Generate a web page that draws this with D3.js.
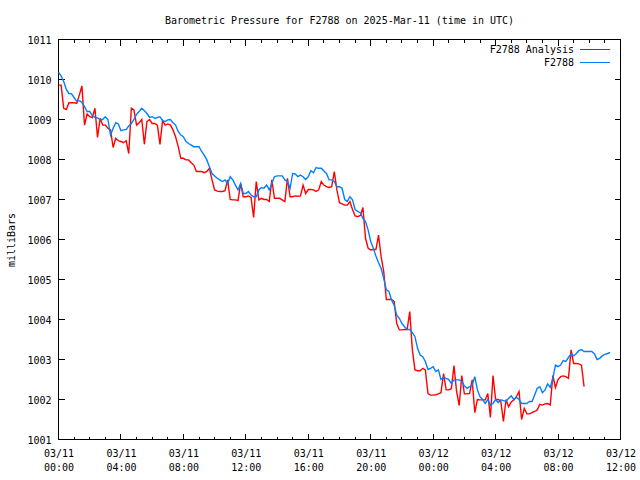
<!DOCTYPE html>
<html><head><meta charset="utf-8">
<script src="https://cdn.jsdelivr.net/npm/d3@7"></script>
<style>
html,body{margin:0;padding:0;background:#fff;}
svg text{font-family:"DejaVu Sans Mono","Liberation Mono",monospace;font-size:10px;fill:#000;}
</style>
</head><body>
<svg id="chart" width="640" height="480"></svg>
<script>
// ---- data (10-minute samples starting 2025-03-11 00:00 UTC) ----
const title = "Barometric Pressure for F2788 on 2025-Mar-11 (time in UTC)";
const yLabel = "milliBars";
const seriesNames = ["F2788 Analysis", "F2788"];
const seriesColors = ["#ff0000", "#0080ff"];
const startTime = Date.UTC(2025, 2, 11, 0, 0);
const stepMinutes = 10;
const xDomain = [Date.UTC(2025, 2, 11, 0, 0), Date.UTC(2025, 2, 12, 12, 0)];
const yTicks = [1001,1002,1003,1004,1005,1006,1007,1008,1009,1010,1011];

const analysis = [
1009.86,1009.86,1009.28,1009.25,1009.42,1009.42,
1009.42,1009.40,1009.61,1009.84,1008.86,1009.14,
1009.07,1009.05,1009.28,1008.55,1009.03,1008.86,
1008.86,1008.78,1008.74,1008.30,1008.53,1008.47,
1008.45,1008.42,1008.47,1008.15,1009.28,1009.24,
1008.86,1008.92,1009.00,1008.38,1008.95,1009.00,
1008.90,1008.90,1008.86,1008.38,1008.97,1008.86,
1008.89,1008.86,1008.74,1008.57,1008.33,1008.03,
1008.03,1007.99,1007.99,1007.92,1007.86,1007.70,
1007.70,1007.70,1007.67,1007.70,1007.78,1007.49,
1007.24,1007.21,1007.20,1007.20,1007.22,1007.49,
1007.00,1006.99,1006.99,1006.97,1007.40,1007.07,
1007.07,1007.09,1007.05,1006.55,1007.45,1006.99,
1007.03,1007.00,1007.00,1006.95,1007.49,1007.03,
1007.03,1007.03,1006.99,1006.95,1007.53,1007.07,
1007.07,1007.09,1007.08,1007.09,1007.36,1007.15,
1007.25,1007.25,1007.24,1007.20,1007.24,1007.45,
1007.36,1007.32,1007.30,1007.32,1007.70,1007.24,
1006.92,1006.89,1006.86,1006.86,1006.95,1006.75,
1006.59,1006.57,1006.60,1006.80,1006.03,1005.78,
1005.74,1005.75,1005.75,1006.11,1005.57,1005.20,
1004.50,1004.50,1004.50,1004.45,1003.90,1003.74,
1003.74,1003.75,1003.75,1004.20,1003.24,1002.74,
1002.72,1002.72,1002.78,1002.74,1002.15,1002.11,
1002.11,1002.12,1002.14,1002.17,1002.65,1002.24,
1002.24,1002.27,1002.85,1002.20,1001.85,1002.60,
1002.14,1002.14,1002.15,1002.49,1001.67,1002.00,
1001.99,1001.99,1001.99,1002.15,1001.55,1002.60,
1002.00,1002.00,1001.95,1001.45,1002.00,1001.82,
1001.94,1001.99,1002.07,1002.20,1001.50,1001.78,
1001.64,1001.64,1001.67,1001.70,1001.74,1001.88,
1001.86,1001.89,1001.90,1001.86,1002.60,1002.30,
1002.50,1002.57,1002.59,1002.57,1002.53,1003.24,
1002.90,1002.90,1002.89,1002.86,1002.32
];

const station = [
1010.18,1010.09,1009.95,1009.75,1009.65,1009.64,
1009.55,1009.45,1009.47,1009.43,1009.32,1009.20,
1009.20,1009.10,1009.05,1009.04,1009.00,1009.00,
1009.07,1009.00,1008.61,1008.78,1008.92,1008.89,
1008.72,1008.74,1008.75,1008.84,1008.90,1009.00,
1009.13,1009.20,1009.28,1009.22,1009.15,1009.05,
1009.07,1009.03,1009.05,1009.07,1008.97,1008.95,
1008.99,1009.00,1008.92,1008.86,1008.70,1008.61,
1008.57,1008.45,1008.40,1008.36,1008.32,1008.32,
1008.32,1008.20,1008.11,1007.99,1007.82,1007.65,
1007.59,1007.53,1007.49,1007.45,1007.49,1007.40,
1007.57,1007.49,1007.36,1007.24,1007.40,1007.15,
1007.15,1007.20,1007.11,1007.07,1007.07,1007.24,
1007.30,1007.28,1007.36,1007.24,1007.40,1007.57,
1007.59,1007.59,1007.59,1007.49,1007.45,1007.28,
1007.65,1007.64,1007.57,1007.61,1007.57,1007.50,
1007.57,1007.72,1007.67,1007.80,1007.78,1007.78,
1007.71,1007.65,1007.49,1007.49,1007.45,1007.32,
1007.32,1007.28,1007.00,1006.95,1007.07,1006.99,
1006.75,1006.70,1006.67,1006.53,1006.45,1006.24,
1005.95,1005.78,1005.59,1005.42,1005.28,1005.03,
1004.74,1004.70,1004.49,1004.36,1004.11,1004.03,
1003.90,1003.82,1003.75,1003.75,1003.67,1003.57,
1003.28,1003.11,1003.07,1002.95,1002.75,1002.78,
1002.82,1002.70,1002.74,1002.50,1002.55,1002.53,
1002.50,1002.40,1002.49,1002.49,1002.49,1002.45,
1002.34,1002.28,1002.32,1002.36,1002.57,1002.24,
1002.07,1002.00,1001.90,1002.00,1001.86,1001.90,
1002.00,1001.92,1001.99,1001.97,1001.95,1002.03,
1002.09,1002.00,1002.05,1002.00,1001.90,1001.90,
1001.90,1001.95,1001.95,1002.11,1002.28,1002.32,
1002.17,1002.24,1002.39,1002.30,1002.53,1002.86,
1002.82,1002.86,1002.97,1002.95,1003.05,1003.14,
1003.09,1003.15,1003.22,1003.25,1003.20,1003.20,
1003.20,1003.20,1003.14,1003.00,1003.03,1003.09,
1003.13,1003.15,1003.18
];

// ---- drawing ----
const svg = d3.select("#chart");
const L = 58.5, R = 620.5, T = 39.5, B = 439.5;

const x = d3.scaleUtc().domain(xDomain).range([L, R]);
const y = d3.scaleLinear().domain([1001, 1011]).range([B, T]);

const toPoints = arr => arr.map((v, i) => ({t: new Date(startTime + i * stepMinutes * 60000), v}));

// title
svg.append("text").attr("x", (L + R) / 2).attr("y", 23.5)
  .attr("text-anchor", "middle").text(title);

// y label
svg.append("text").attr("transform", "translate(15,240) rotate(-90)")
  .attr("text-anchor", "middle").text(yLabel);

// frame
svg.append("rect").attr("x", L).attr("y", T).attr("width", R - L).attr("height", B - T)
  .attr("fill", "none").attr("stroke", "#000").attr("stroke-width", 1)
  .attr("shape-rendering", "crispEdges");

const tickG = svg.append("g").attr("stroke", "#000").attr("stroke-width", 1)
  .attr("shape-rendering", "crispEdges");

// x ticks (major every 4h, minor every 1h), mirrored on top
const xMajor = d3.utcHour.every(4).range(xDomain[0], new Date(xDomain[1].valueOf() + 1));
const xMinor = d3.utcHour.every(1).range(xDomain[0], new Date(xDomain[1].valueOf() + 1));
xMinor.forEach(d => {
  const isMajor = d.getUTCHours() % 4 === 0;
  const len = isMajor ? 6 : 3;
  const px = Math.round(x(d) - 0.5) + 0.5;
  tickG.append("line").attr("x1", px).attr("x2", px).attr("y1", B).attr("y2", B - len);
  tickG.append("line").attr("x1", px).attr("x2", px).attr("y1", T).attr("y2", T + len);
});

// y ticks mirrored on right
yTicks.forEach(v => {
  const py = Math.round(y(v) - 0.5) + 0.5;
  tickG.append("line").attr("x1", L).attr("x2", L + 6).attr("y1", py).attr("y2", py);
  tickG.append("line").attr("x1", R).attr("x2", R - 6).attr("y1", py).attr("y2", py);
});

// axis labels using d3 axes (lines hidden; frame drawn above)
const fmtDate = d3.utcFormat("%m/%d"), fmtTime = d3.utcFormat("%H:%M");
const xAxis = d3.axisBottom(x).tickValues(xMajor).tickSize(0).tickPadding(0).tickFormat("");
const gx = svg.append("g").attr("transform", `translate(0,${B})`).call(xAxis);
gx.select(".domain").remove();
gx.selectAll(".tick").each(function(d) {
  const g = d3.select(this);
  g.select("line").remove();
  const t = g.select("text").attr("y", 0).attr("dy", null).attr("text-anchor", "middle");
  t.append("tspan").attr("x", 0).attr("y", 17).text(fmtDate(d));
  t.append("tspan").attr("x", 0).attr("y", 31).text(fmtTime(d));
});

const yAxis = d3.axisLeft(y).tickValues(yTicks).tickSize(0).tickPadding(7).tickFormat(d3.format("d"));
const gy = svg.append("g").attr("transform", `translate(${L},0)`).call(yAxis);
gy.select(".domain").remove();
gy.selectAll(".tick line").remove();
gy.selectAll(".tick text").attr("dy", "0.35em");
gx.attr("font-family", null).attr("font-size", null);
gy.attr("font-family", null).attr("font-size", null);

// series lines
const line = d3.line().x(d => x(d.t)).y(d => y(d.v));
[analysis, station].forEach((arr, i) => {
  svg.append("path").datum(toPoints(arr))
    .attr("fill", "none").attr("stroke", seriesColors[i]).attr("stroke-width", 1.4)
    .attr("stroke-linejoin", "miter")
    .attr("d", line);
});

// legend
seriesNames.forEach((name, i) => {
  const ly = 49.5 + i * 13;
  svg.append("text").attr("x", 574).attr("y", ly).attr("dy", "0.35em")
    .attr("text-anchor", "end").text(name);
  svg.append("line").attr("x1", 580).attr("x2", 610).attr("y1", ly).attr("y2", ly)
    .attr("stroke", seriesColors[i]).attr("stroke-width", 1)
    .attr("shape-rendering", "crispEdges");
});
</script>
</body></html>
